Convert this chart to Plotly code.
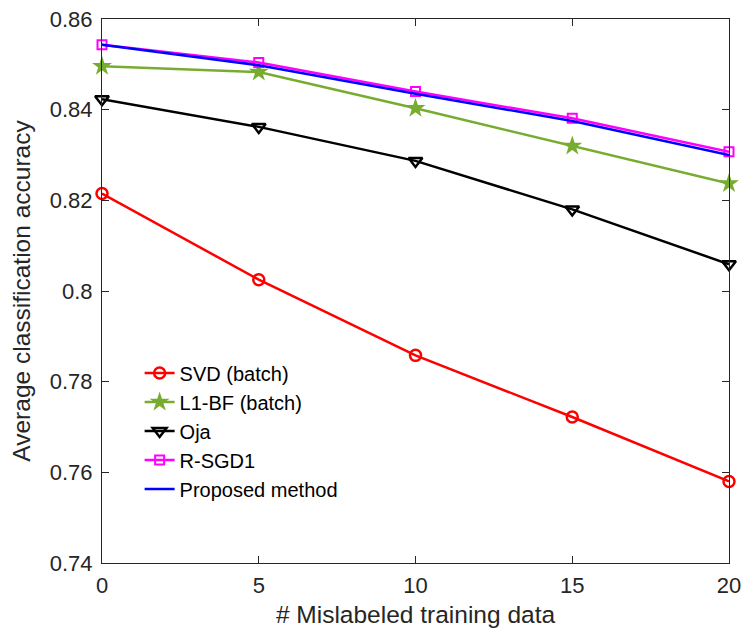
import plotly.graph_objects as go

x_vals = [0, 5, 10, 15, 20]
svd = [0.8215, 0.8025, 0.7858, 0.7722, 0.7580]
l1bf = [0.8496, 0.8483, 0.8403, 0.8320, 0.8237]
oja = [0.8423, 0.8362, 0.8287, 0.8180, 0.8059]
rsgd1 = [0.8543, 0.8504, 0.8440, 0.8381, 0.8307]
proposed = [0.8543, 0.8498, 0.8435, 0.8375, 0.8300]

y_ticks = [0.74, 0.76, 0.78, 0.8, 0.82, 0.84, 0.86]
y_tick_text = ["0.74", "0.76", "0.78", "0.8", "0.82", "0.84", "0.86"]
x_ticks = [0, 5, 10, 15, 20]

FONT = "Liberation Sans, Arial, sans-serif"

fig = go.Figure()
fig.add_trace(go.Scatter(x=x_vals, y=svd, name="SVD (batch)", mode="lines+markers", cliponaxis=False,
                         line=dict(color="#FF0000", width=2.5),
                         marker=dict(symbol="circle-open", size=11, color="#FF0000", line=dict(width=2.5))))
fig.add_trace(go.Scatter(x=x_vals, y=l1bf, name="L1-BF (batch)", mode="lines+markers", cliponaxis=False,
                         line=dict(color="#77AC30", width=2.5),
                         marker=dict(symbol="star", size=15, color="#77AC30", line=dict(width=0))))
fig.add_trace(go.Scatter(x=x_vals, y=oja, name="Oja", mode="lines+markers", cliponaxis=False,
                         line=dict(color="#000000", width=2.5),
                         marker=dict(symbol="triangle-down-open", size=12, color="#000000", line=dict(width=2.5))))
fig.add_trace(go.Scatter(x=x_vals, y=rsgd1, name="R-SGD1", mode="lines+markers", cliponaxis=False,
                         line=dict(color="#FF00FF", width=2.5),
                         marker=dict(symbol="square-open", size=9, color="#FF00FF", line=dict(width=2))))
fig.add_trace(go.Scatter(x=x_vals, y=proposed, name="Proposed method", mode="lines", cliponaxis=False,
                         line=dict(color="#0000FF", width=2.5)))

axis_common = dict(showgrid=False, zeroline=False, showline=True, linecolor="#262626", linewidth=1,
                   mirror="ticks", ticks="inside", ticklen=7, tickcolor="#262626",
                   automargin=False, ticklabeloverflow="allow",
                   tickfont=dict(family=FONT, size=22, color="#262626"))

fig.update_layout(
    width=741, height=632,
    plot_bgcolor="white", paper_bgcolor="white",
    margin=dict(l=102, r=12, t=19, b=69),
    font=dict(family=FONT, color="#262626"),
    xaxis=dict(range=[0, 20], tickvals=x_ticks, ticklabelstandoff=3,
               title=dict(text="# Mislabeled training data", font=dict(size=24.5), standoff=8),
               **axis_common),
    yaxis=dict(range=[0.74, 0.86], tickvals=y_ticks, ticktext=y_tick_text, ticklabelstandoff=4,
               title=dict(text="Average classification accuracy", font=dict(size=24.5), standoff=12),
               **axis_common),
    legend=dict(x=0.06, y=0.385, xanchor="left", yanchor="top", bgcolor="rgba(0,0,0,0)",
                borderwidth=0, font=dict(size=20, color="#000000"), tracegroupgap=0,
                itemwidth=30),
    showlegend=True,
)

fig.write_html("out.html", config={"displayModeBar": False},
               post_script="document.body.style.margin='0px';")
